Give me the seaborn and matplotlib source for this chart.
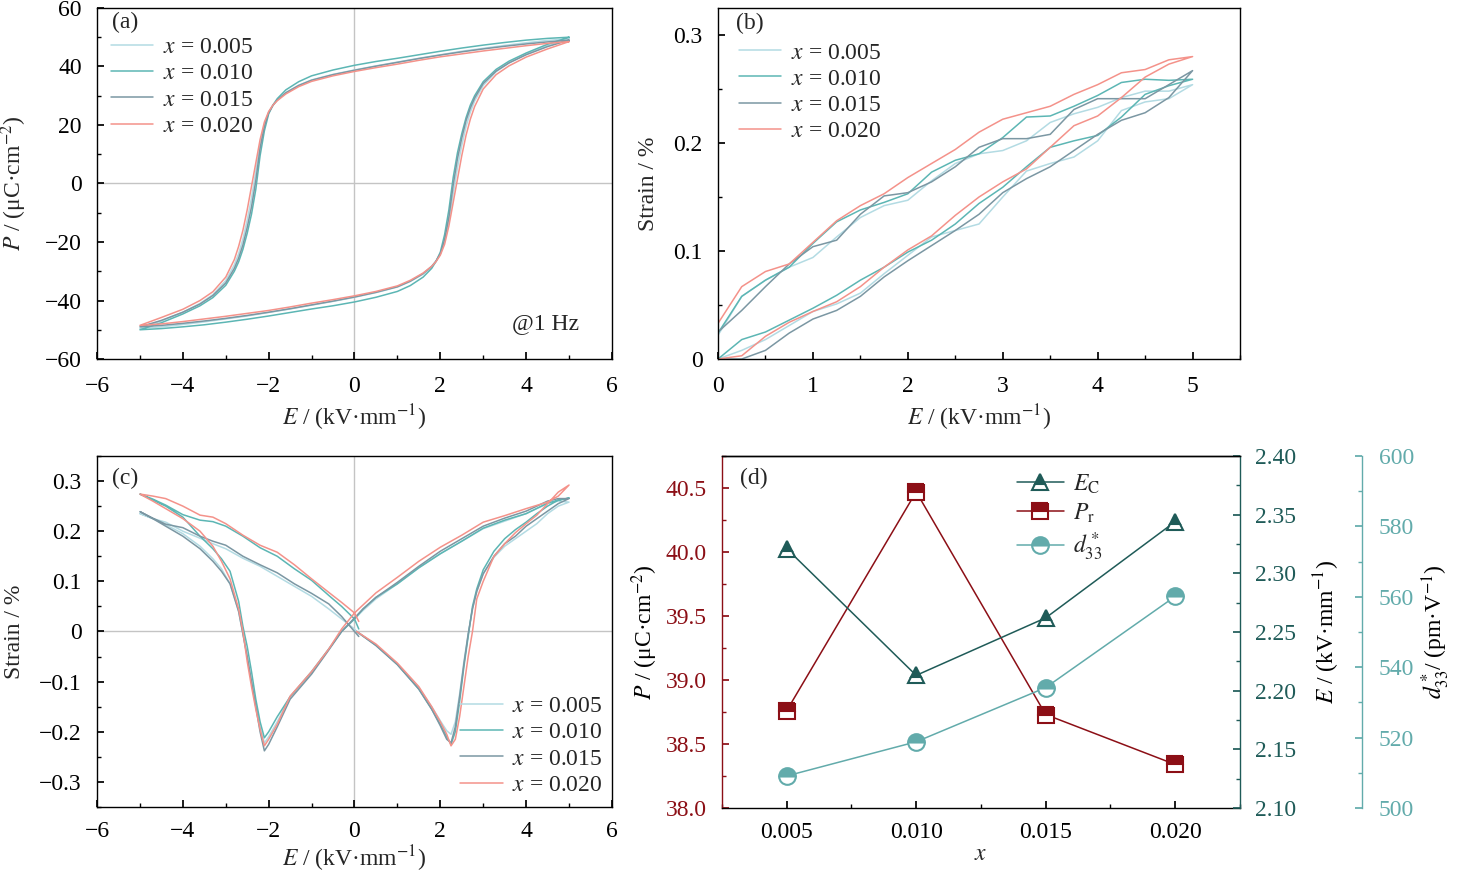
import matplotlib
matplotlib.use("Agg")
import matplotlib.pyplot as plt
from matplotlib.ticker import MultipleLocator, FuncFormatter
import seaborn as sns
import pandas as pd

# ---- series / labels ----
comp_labels = [r"$x$ = 0.005", r"$x$ = 0.010", r"$x$ = 0.015", r"$x$ = 0.020"]
comp_colors = ["#b3dbe3", "#5cb6b4", "#7b97a3", "#f4928a"]

# (a) P-E loops: descending branch (E 5 -> -5) and ascending branch (E -5 -> 5)
a_e_down = [5, 4.5, 4, 3.5, 3, 2.5, 2, 1.5, 1, 0.5, 0, -0.5, -1, -1.3, -1.6, -1.8, -1.9, -2.0,
            -2.1, -2.2, -2.3, -2.4, -2.5, -2.6, -2.7, -2.8, -3.0, -3.3, -3.6, -4.0, -4.5, -5]
a_e_up = [-5, -4.5, -4, -3.5, -3, -2.5, -2, -1.5, -1, -0.5, 0, 0.5, 1, 1.3, 1.6, 1.8, 1.9, 2.0,
          2.1, 2.2, 2.3, 2.4, 2.5, 2.6, 2.7, 2.8, 3.0, 3.3, 3.6, 4.0, 4.5, 5]
p_down_005 = [49.5, 48.9, 48.1, 47.2, 46.2, 45.2, 44.0, 42.8, 41.5, 40.2, 38.8, 37.3, 35.4, 33.6, 31.1, 28.6,
              26.8, 24.4, 20.2, 13.5, 4.0, -5.0, -12.5, -19.0, -24.0, -27.8, -33.2, -38.0, -41.0, -44.0, -47.0, -49.5]
p_up_005 = [-49.5, -49.0, -48.2, -47.3, -46.3, -45.3, -44.1, -42.9, -41.6, -40.3, -38.9, -37.3, -35.4, -33.5, -31.0, -28.5,
            -26.7, -24.2, -20.0, -13.0, -3.5, 5.5, 13.0, 19.5, 24.4, 28.2, 33.5, 38.2, 41.2, 44.2, 47.1, 49.5]
p_down_010 = [50.0, 49.6, 49.0, 48.2, 47.3, 46.3, 45.2, 44.0, 42.8, 41.7, 40.4, 38.8, 36.8, 34.8, 32.0, 29.0,
              26.8, 23.8, 18.0, 9.5, -2.0, -10.5, -17.0, -22.5, -26.8, -30.0, -34.8, -39.0, -41.8, -44.6, -47.6, -50.0]
p_up_010 = [-50.0, -49.6, -49.0, -48.3, -47.4, -46.4, -45.3, -44.1, -42.9, -41.8, -40.5, -38.9, -36.9, -34.9, -32.0, -29.0,
            -26.6, -23.5, -17.5, -9.0, 2.0, 10.5, 17.0, 22.5, 26.8, 30.0, 34.8, 39.0, 41.8, 44.6, 47.6, 50.0]
p_down_015 = [49.0, 48.4, 47.7, 46.9, 46.0, 45.0, 43.9, 42.7, 41.4, 40.1, 38.7, 37.2, 35.3, 33.5, 31.0, 28.5,
              26.7, 24.2, 19.5, 12.0, 1.0, -8.0, -15.0, -21.0, -25.5, -29.0, -34.0, -38.3, -41.2, -44.0, -46.8, -49.0]
p_up_015 = [-49.0, -48.5, -47.8, -47.0, -46.1, -45.1, -44.0, -42.8, -41.5, -40.2, -38.8, -37.2, -35.3, -33.4, -30.8, -28.3,
            -26.5, -24.0, -19.2, -11.5, -0.5, 8.5, 15.5, 21.5, 25.8, 29.2, 34.2, 38.4, 41.2, 44.0, 46.8, 49.0]
p_down_020 = [48.5, 47.9, 47.1, 46.2, 45.3, 44.3, 43.3, 42.1, 40.8, 39.6, 38.3, 36.8, 34.9, 33.1, 30.6, 28.3,
              26.8, 24.6, 21.0, 15.0, 7.0, -1.0, -9.0, -16.0, -21.5, -26.0, -32.0, -37.0, -40.0, -43.0, -45.8, -48.5]
p_up_020 = [-48.5, -48.0, -47.2, -46.3, -45.4, -44.4, -43.4, -42.2, -40.9, -39.7, -38.4, -36.9, -35.0, -33.1, -30.6, -28.3,
            -26.7, -24.5, -20.8, -14.5, -6.5, 1.5, 9.5, 16.5, 22.0, 26.3, 32.3, 37.2, 40.2, 43.2, 46.0, 48.5]

# (b) unipolar strain: rise (lower) and fall (upper) branches on the same E grid
b_e = [0, 0.25, 0.5, 0.75, 1.0, 1.25, 1.5, 1.75, 2.0, 2.25, 2.5, 2.75, 3.0, 3.25, 3.5, 3.75, 4.0, 4.25, 4.5, 4.75, 5.0]
s_rise_005 = [0.0, 0.008, 0.018, 0.031, 0.044, 0.051, 0.061, 0.079, 0.096, 0.113, 0.119, 0.125, 0.15, 0.174, 0.181, 0.187,
              0.202, 0.23, 0.238, 0.241, 0.254]
s_fall_005 = [0.022, 0.058, 0.073, 0.085, 0.094, 0.113, 0.131, 0.142, 0.147, 0.165, 0.181, 0.19, 0.193, 0.202, 0.219, 0.227,
              0.233, 0.242, 0.248, 0.248, 0.254]
s_rise_010 = [0.0, 0.018, 0.025, 0.036, 0.047, 0.059, 0.073, 0.085, 0.099, 0.11, 0.125, 0.144, 0.159, 0.178, 0.196, 0.202,
              0.207, 0.224, 0.245, 0.253, 0.259]
s_fall_010 = [0.024, 0.058, 0.073, 0.085, 0.107, 0.127, 0.138, 0.145, 0.153, 0.173, 0.184, 0.19, 0.205, 0.224, 0.225, 0.234,
              0.244, 0.256, 0.259, 0.258, 0.259]
s_rise_015 = [0.0, 0.0, 0.008, 0.024, 0.037, 0.045, 0.058, 0.076, 0.091, 0.105, 0.119, 0.134, 0.154, 0.167, 0.178, 0.193,
              0.208, 0.221, 0.228, 0.242, 0.267]
s_fall_015 = [0.025, 0.045, 0.067, 0.088, 0.104, 0.11, 0.134, 0.151, 0.154, 0.164, 0.178, 0.196, 0.204, 0.204, 0.208, 0.231,
              0.241, 0.241, 0.241, 0.254, 0.267]
s_rise_020 = [0.0, 0.003, 0.021, 0.034, 0.044, 0.053, 0.067, 0.085, 0.101, 0.114, 0.133, 0.15, 0.164, 0.176, 0.196, 0.216,
              0.225, 0.242, 0.261, 0.273, 0.28]
s_fall_020 = [0.033, 0.067, 0.081, 0.088, 0.108, 0.128, 0.142, 0.153, 0.168, 0.181, 0.194, 0.21, 0.222, 0.228, 0.234, 0.245,
              0.254, 0.265, 0.268, 0.277, 0.28]

# (c) bipolar strain, four segments: A (0 -> 5), B (5 -> -0.3), C (-0.3 -> -5), D (-5 -> 0.1)
c_e_a = [0.05, 0.5, 1.0, 1.5, 1.8, 2.0, 2.15, 2.25, 2.35, 2.45, 2.55, 2.65, 2.75, 2.85, 3.0, 3.25, 3.5, 3.75, 4.0, 4.25,
         4.5, 4.75, 5.0]
c_e_b = [5.0, 4.75, 4.5, 4.0, 3.5, 3.0, 2.5, 2.0, 1.5, 1.0, 0.5, 0.2, 0.0, -0.3]
c_e_c = [-0.3, -0.6, -1.0, -1.5, -1.8, -2.0, -2.1, -2.2, -2.3, -2.4, -2.5, -2.6, -2.7, -2.9, -3.1, -3.3, -3.6, -4.0,
         -4.4, -4.7, -5.0]
c_e_d = [-5.0, -4.7, -4.4, -4.0, -3.6, -3.3, -3.0, -2.6, -2.2, -1.8, -1.4, -1.0, -0.6, -0.3, 0.0, 0.1]

c_a_005 = [0.0, -0.028, -0.066, -0.113, -0.15, -0.178, -0.198, -0.205, -0.18, -0.125, -0.06, -0.005, 0.045, 0.08, 0.115,
           0.148, 0.17, 0.185, 0.2, 0.215, 0.235, 0.25, 0.258]
c_b_005 = [0.258, 0.26, 0.255, 0.235, 0.22, 0.205, 0.18, 0.155, 0.127, 0.095, 0.065, 0.042, 0.025, 0.0]
c_c_005 = [0.0, -0.035, -0.083, -0.13, -0.18, -0.21, -0.222, -0.19, -0.145, -0.1, -0.05, -0.005, 0.04, 0.095, 0.125,
           0.145, 0.17, 0.195, 0.213, 0.225, 0.235]
c_d_005 = [0.235, 0.225, 0.218, 0.2, 0.186, 0.175, 0.165, 0.146, 0.13, 0.11, 0.09, 0.07, 0.045, 0.025, 0.005, -0.005]

c_a_010 = [0.0, -0.027, -0.066, -0.115, -0.155, -0.185, -0.21, -0.225, -0.2, -0.14, -0.07, -0.01, 0.05, 0.085, 0.123,
           0.16, 0.185, 0.203, 0.218, 0.235, 0.25, 0.262, 0.266]
c_b_010 = [0.266, 0.262, 0.256, 0.235, 0.222, 0.206, 0.18, 0.155, 0.127, 0.095, 0.068, 0.045, 0.025, 0.0]
c_c_010 = [0.0, -0.035, -0.08, -0.13, -0.17, -0.2, -0.212, -0.18, -0.135, -0.08, -0.03, 0.01, 0.06, 0.12, 0.145,
           0.165, 0.19, 0.228, 0.25, 0.262, 0.274]
c_d_010 = [0.274, 0.264, 0.252, 0.233, 0.222, 0.219, 0.21, 0.19, 0.167, 0.15, 0.125, 0.102, 0.072, 0.05, 0.025, 0.005]

c_a_015 = [0.0, -0.028, -0.066, -0.115, -0.155, -0.188, -0.215, -0.222, -0.19, -0.13, -0.065, -0.005, 0.045, 0.08, 0.115,
           0.15, 0.175, 0.19, 0.21, 0.225, 0.24, 0.255, 0.265]
c_b_015 = [0.265, 0.265, 0.26, 0.24, 0.226, 0.21, 0.185, 0.16, 0.13, 0.098, 0.068, 0.045, 0.027, 0.0]
c_c_015 = [0.0, -0.037, -0.085, -0.135, -0.19, -0.225, -0.238, -0.2, -0.15, -0.1, -0.05, -0.005, 0.04, 0.095, 0.12,
           0.14, 0.165, 0.19, 0.21, 0.225, 0.239]
c_d_015 = [0.239, 0.226, 0.214, 0.207, 0.19, 0.18, 0.172, 0.15, 0.133, 0.117, 0.095, 0.076, 0.055, 0.03, 0.0, -0.01]

c_a_020 = [0.0, -0.025, -0.063, -0.11, -0.15, -0.18, -0.205, -0.228, -0.215, -0.17, -0.11, -0.05, 0.0, 0.065, 0.1,
           0.15, 0.175, 0.197, 0.215, 0.232, 0.255, 0.278, 0.292]
c_b_020 = [0.292, 0.27, 0.258, 0.245, 0.231, 0.218, 0.192, 0.168, 0.14, 0.108, 0.077, 0.053, 0.037, 0.005]
c_c_020 = [0.005, -0.035, -0.08, -0.129, -0.185, -0.215, -0.228, -0.195, -0.155, -0.11, -0.06, 0.0, 0.045, 0.105, 0.14,
           0.17, 0.2, 0.225, 0.245, 0.26, 0.274]
c_d_020 = [0.274, 0.27, 0.265, 0.25, 0.232, 0.228, 0.215, 0.192, 0.172, 0.158, 0.133, 0.105, 0.078, 0.058, 0.037, 0.02]

# (d) composition dependence
comp_x = [0.005, 0.010, 0.015, 0.020]
ec_vals = [2.321, 2.213, 2.262, 2.344]
pr_vals = [38.76, 40.47, 38.73, 38.34]
d33_vals = [509.1, 518.8, 534.2, 560.1]
ec_color = "#1f5b58"
pr_color = "#8c0f16"
d33_color = "#62abab"

# ---- style ----
sns.set_theme(style="ticks")
plt.rcParams["font.family"] = ["Liberation Serif", "DejaVu Serif"]
plt.rcParams["mathtext.fontset"] = "stix"
plt.rcParams.update({
    "font.size": 17, "axes.labelsize": 17, "xtick.labelsize": 17, "ytick.labelsize": 17,
    "legend.fontsize": 17, "axes.edgecolor": "black", "axes.linewidth": 1.0,
    "xtick.direction": "in", "ytick.direction": "in",
    "xtick.color": "black", "ytick.color": "black",
    "xtick.major.size": 5, "ytick.major.size": 5, "xtick.minor.size": 3, "ytick.minor.size": 3,
    "xtick.major.pad": 12, "ytick.major.pad": 11, "xtick.minor.visible": True, "ytick.minor.visible": True,
})

fmt_g = FuncFormatter(lambda v, p: f"{v:g}".replace("-", "\u2212"))
E_LABEL = r"$E$ / (kV·mm$^{-1}$)"

fig = plt.figure(figsize=(14.57, 8.75), dpi=100)
ax_a = fig.add_axes([0.0666, 0.5897, 0.3534, 0.4012])
ax_b = fig.add_axes([0.4928, 0.5897, 0.3583, 0.4012])
ax_c = fig.add_axes([0.0666, 0.0777, 0.3534, 0.4012])
ax_d = fig.add_axes([0.4955, 0.0766, 0.3555, 0.4023])


def draw_path(ax, xs, ys, color, label):
    df = pd.DataFrame({"E": xs, "v": ys})
    sns.lineplot(data=df, x="E", y="v", sort=False, estimator=None, color=color, lw=1.1, label=label, ax=ax)


def series_legend(ax, **kw):
    ax.legend(frameon=False, handlelength=1.8, handletextpad=0.4, labelspacing=0.2, borderpad=0.2, **kw)


# (a)
a_down = [p_down_005, p_down_010, p_down_015, p_down_020]
a_up = [p_up_005, p_up_010, p_up_015, p_up_020]
ax_a.axhline(0, color="#c4c4c4", lw=1, zorder=0)
ax_a.axvline(0, color="#c4c4c4", lw=1, zorder=0)
for pd_, pu_, col, lab in zip(a_down, a_up, comp_colors, comp_labels):
    draw_path(ax_a, a_e_down + a_e_up, pd_ + pu_, col, lab)
ax_a.set_xlim(-6, 6)
ax_a.set_ylim(-60, 60)
ax_a.xaxis.set_major_locator(MultipleLocator(2))
ax_a.xaxis.set_minor_locator(MultipleLocator(1))
ax_a.yaxis.set_major_locator(MultipleLocator(20))
ax_a.yaxis.set_minor_locator(MultipleLocator(10))
ax_a.xaxis.set_major_formatter(fmt_g)
ax_a.yaxis.set_major_formatter(fmt_g)
ax_a.set_xlabel(E_LABEL)
ax_a.set_ylabel(r"$P$ / (μC·cm$^{-2}$)", labelpad=11)
ax_a.text(0.029, 0.99, "(a)", transform=ax_a.transAxes, ha="left", va="top")
ax_a.text(0.87, 0.10, "@1 Hz", transform=ax_a.transAxes, ha="center", va="center")
series_legend(ax_a, loc="upper left", bbox_to_anchor=(0.008, 0.945), borderaxespad=0.2)

# (b)
b_rise = [s_rise_005, s_rise_010, s_rise_015, s_rise_020]
b_fall = [s_fall_005, s_fall_010, s_fall_015, s_fall_020]
for sr, sf, col, lab in zip(b_rise, b_fall, comp_colors, comp_labels):
    draw_path(ax_b, b_e + b_e[::-1], sr + sf[::-1], col, lab)
ax_b.set_xlim(0, 5.5)
ax_b.set_ylim(0, 0.325)
ax_b.xaxis.set_major_locator(MultipleLocator(1))
ax_b.xaxis.set_minor_locator(MultipleLocator(0.5))
ax_b.yaxis.set_major_locator(MultipleLocator(0.1))
ax_b.yaxis.set_minor_locator(MultipleLocator(0.05))
ax_b.xaxis.set_major_formatter(fmt_g)
ax_b.yaxis.set_major_formatter(fmt_g)
ax_b.set_xlabel(E_LABEL)
ax_b.set_ylabel("Strain / %", labelpad=10)
ax_b.text(0.035, 0.985, "(b)", transform=ax_b.transAxes, ha="left", va="top")
series_legend(ax_b, loc="upper left", bbox_to_anchor=(0.022, 0.93), borderaxespad=0.2)

# (c)
c_a = [c_a_005, c_a_010, c_a_015, c_a_020]
c_b = [c_b_005, c_b_010, c_b_015, c_b_020]
c_c = [c_c_005, c_c_010, c_c_015, c_c_020]
c_d = [c_d_005, c_d_010, c_d_015, c_d_020]
ax_c.axhline(0, color="#c4c4c4", lw=1, zorder=0)
ax_c.axvline(0, color="#c4c4c4", lw=1, zorder=0)
for sa, sb, sc, sd, col, lab in zip(c_a, c_b, c_c, c_d, comp_colors, comp_labels):
    draw_path(ax_c, c_e_a + c_e_b + c_e_c + c_e_d, sa + sb + sc + sd, col, lab)
ax_c.set_xlim(-6, 6)
ax_c.set_ylim(-0.35, 0.35)
ax_c.xaxis.set_major_locator(MultipleLocator(2))
ax_c.xaxis.set_minor_locator(MultipleLocator(1))
ax_c.yaxis.set_major_locator(MultipleLocator(0.1))
ax_c.yaxis.set_minor_locator(MultipleLocator(0.05))
ax_c.xaxis.set_major_formatter(fmt_g)
ax_c.yaxis.set_major_formatter(fmt_g)
ax_c.tick_params(axis="x", which="major", pad=10)
ax_c.set_xlabel(E_LABEL, labelpad=1)
ax_c.set_ylabel("Strain / %", labelpad=10)
ax_c.text(0.03, 0.966, "(c)", transform=ax_c.transAxes, ha="left", va="top")
series_legend(ax_c, loc="lower right", bbox_to_anchor=(1.0, 0.005), borderaxespad=0.2)

# (d)
ax_e = ax_d.twinx()
ax_k = ax_d.twinx()
ax_k.spines["right"].set_position(("axes", 1.2355))
for s in ["top", "bottom", "left"]:
    ax_k.spines[s].set_visible(False)
for s in ["bottom", "left"]:
    ax_e.spines[s].set_visible(False)
ax_d.spines["right"].set_visible(False)
ax_d.spines["left"].set_color(pr_color)
ax_e.spines["right"].set_color(ec_color)
ax_k.spines["right"].set_color(d33_color)

mk = dict(fillstyle="top", markerfacecoloralt="white", markeredgewidth=1.5, markersize=12, lw=1.1)
sns.lineplot(x=comp_x, y=pr_vals, ax=ax_d, color=pr_color, marker="s", markeredgecolor=pr_color,
             label=r"$P_\mathrm{r}$", **mk)
sns.lineplot(x=comp_x, y=ec_vals, ax=ax_e, color=ec_color, marker="^", markeredgecolor=ec_color,
             label=r"$E_\mathrm{C}$", **mk)
sns.lineplot(x=comp_x, y=d33_vals, ax=ax_k, color=d33_color, marker="o", markeredgecolor=d33_color,
             label=r"$d^*_{33}$", **mk)

ax_d.set_xlim(0.0025, 0.0225)
ax_d.set_ylim(38.0, 40.75)
ax_e.set_ylim(2.10, 2.40)
ax_k.set_ylim(500, 600)
ax_d.xaxis.set_major_locator(MultipleLocator(0.005))
ax_d.xaxis.set_minor_locator(MultipleLocator(0.0025))
ax_d.xaxis.set_major_formatter(FuncFormatter(lambda v, p: f"{v:.3f}"))
ax_d.yaxis.set_major_locator(MultipleLocator(0.5))
ax_d.yaxis.set_minor_locator(MultipleLocator(0.25))
ax_d.yaxis.set_major_formatter(FuncFormatter(lambda v, p: f"{v:.1f}"))
ax_e.yaxis.set_major_locator(MultipleLocator(0.05))
ax_e.yaxis.set_minor_locator(MultipleLocator(0.025))
ax_e.yaxis.set_major_formatter(FuncFormatter(lambda v, p: f"{v:.2f}"))
ax_k.yaxis.set_major_locator(MultipleLocator(20))
ax_k.yaxis.set_minor_locator(MultipleLocator(10))
ax_k.yaxis.set_major_formatter(FuncFormatter(lambda v, p: f"{v:.0f}"))
ax_d.tick_params(axis="y", which="both", colors=pr_color)
ax_e.tick_params(axis="y", which="both", colors=ec_color)
ax_k.tick_params(axis="y", which="both", colors=d33_color, pad=12)
ax_e.tick_params(axis="x", which="both", bottom=False, top=False)
ax_k.tick_params(axis="x", which="both", bottom=False, top=False)
ax_d.tick_params(axis="x", which="major", pad=10)
ax_d.set_xlabel(r"$x$", labelpad=1)
ax_d.set_ylabel(r"$P$ / (μC·cm$^{-2}$)", color="black", labelpad=4)
ax_e.set_ylabel(r"$E$ / (kV·mm$^{-1}$)", color="black", labelpad=11)
ax_k.set_ylabel(r"$d^*_{33}$/ (pm·V$^{-1}$)", color="black", labelpad=4)
ax_d.text(0.035, 0.966, "(d)", transform=ax_d.transAxes, ha="left", va="top")

handles, labels = [], []
for a in (ax_e, ax_d, ax_k):
    h, l = a.get_legend_handles_labels()
    handles += h
    labels += l
    if a.get_legend() is not None:
        a.get_legend().remove()
ax_k.legend(handles, labels, loc="upper left", bbox_to_anchor=(0.537, 1.0), frameon=False,
            handlelength=2.0, handletextpad=0.4, labelspacing=0.25, borderpad=0.2, numpoints=1)

fig.savefig("out.png", dpi=100)
